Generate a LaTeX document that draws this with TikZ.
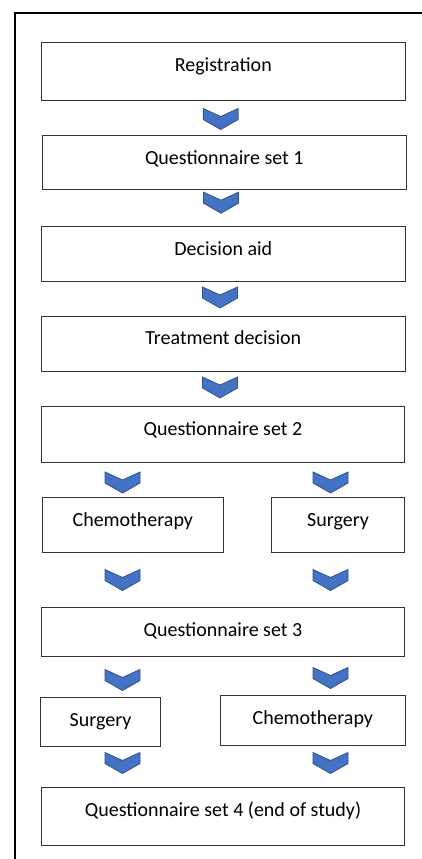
\documentclass[tikz,border=0pt]{standalone}
\usepackage{fontspec}
\setmainfont{Carlito}
\definecolor{chevfill}{HTML}{4472C4}
\definecolor{chevline}{HTML}{2F528F}
\tikzset{
    box/.style={draw=black!80, line width=0.8pt, inner sep=0pt, text height=29pt,
        font=\fontsize{20}{24}\selectfont},
    chev/.pic={\draw[fill=chevfill, draw=chevline, line width=0.8pt]
        (-17.5,-10.5) -- (0,-2.5) -- (17.5,-10.5) -- (17.5,0.5) -- (0,10.5) -- (-17.5,0.5) -- cycle;}
}
\begin{document}
\begin{tikzpicture}[x=1pt,y=-1pt]
    \useasboundingbox (0,0) rectangle (422,859);
    %frame
    \draw[line width=1.8pt] (15.3,859) -- (15.3,12.7) -- (422,12.7);
    %main column
    \node[box, minimum width=363.3pt, text depth=29pt] (reg) at (223.3,71) {Registration};
    \node[box, minimum width=363.5pt, text depth=24.6pt] (qa) at (224.3,162.5) {Questionnaire set 1};
    \node[box, minimum width=363.3pt, text depth=26pt] (aid) at (223.3,254.2) {Decision aid};
    \node[box, minimum width=363.3pt, text depth=26.7pt] (dec) at (223.3,343.8) {Treatment decision};
    \node[box, minimum width=362.6pt, text depth=27pt] (qb) at (223,434) {Questionnaire set 2};
    %first branch
    \node[box, minimum width=181pt, text depth=26pt] (chemoa) at (132.8,524.5) {Chemotherapy};
    \node[box, minimum width=132.6pt, text depth=26pt] (surga) at (338,524.5) {Surgery};
    \node[box, minimum width=362.6pt, text depth=20.4pt] (qc) at (223,632) {Questionnaire set 3};
    %second branch
    \node[box, minimum width=119.6pt, text depth=19.3pt] (surgb) at (100.5,721.8) {Surgery};
    \node[box, minimum width=185.7pt, text depth=20.7pt] (chemob) at (312.8,720.2) {Chemotherapy};
    \node[box, minimum width=362.6pt, text depth=28.3pt] (qd) at (223,816.3) {Questionnaire set 4 (end of study)};
    %chevrons
    \pic at (220.7,119) {chev};
    \pic at (221,202.7) {chev};
    \pic at (220,297.5) {chev};
    \pic at (220,387.5) {chev};
    \pic at (122.5,482.5) {chev};
    \pic at (330.5,482.5) {chev};
    \pic at (122.5,580) {chev};
    \pic at (330.5,580) {chev};
    \pic at (122.5,680) {chev};
    \pic at (330.5,678) {chev};
    \pic at (122.5,763) {chev};
    \pic at (330.5,763) {chev};
\end{tikzpicture}
\end{document}
